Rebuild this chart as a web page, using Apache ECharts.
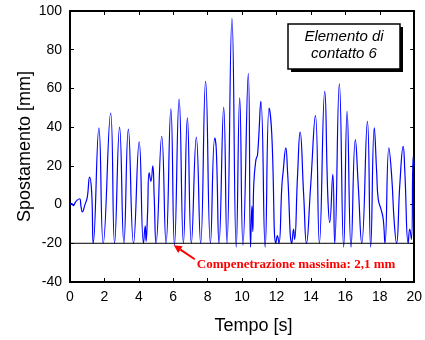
<!DOCTYPE html>
<html>
<head>
<meta charset="utf-8">
<script src="https://cdn.jsdelivr.net/npm/echarts@6/dist/echarts.min.js"></script>
<style>
  html, body { margin: 0; padding: 0; background: #fff; }
  #chart { width: 425px; height: 340px; }
</style>
</head>
<body>
<div id="chart"></div>
<script>
// ---- data ----
const time = [
  0, 0.1, 0.2, 0.3, 0.42, 0.56, 0.64, 0.72, 0.87, 1.0, 1.14, 1.26, 1.35,
  1.68, 1.93,
  2.36, 2.59,
  2.88, 3.13,
  3.39, 3.69,
  4.02, 4.27, 4.37, 4.42, 4.5, 4.6, 4.7, 4.81, 4.89, 5.0,
  5.33, 5.58,
  5.86, 6.07,
  6.34, 6.59,
  6.82, 7.05,
  7.34, 7.59,
  7.88, 8.16,
  8.41, 8.5, 8.66,
  8.93, 9.12,
  9.41, 9.66,
  9.86, 10.05,
  10.36, 10.49, 10.57, 10.62, 10.68, 10.8, 10.9,
  11.09, 11.34,
  11.57, 11.72, 11.96, 12.05, 12.14, 12.31, 12.38,
  12.54, 12.64, 12.89, 12.99, 13.05, 13.22,
  13.37, 13.58, 13.74, 13.97,
  14.26, 14.49,
  14.80, 14.98, 15.09, 15.27, 15.38,
  15.65, 15.90,
  16.10, 16.33,
  16.58, 16.75, 16.95,
  17.28, 17.47,
  17.68, 17.82, 17.91, 18.07, 18.2, 18.3,
  18.53, 18.69, 18.84, 18.97, 19.17,
  19.36, 19.45, 19.65, 19.74, 19.84, 19.94, 20.0
];
const disp = [
  0, 0.5, -0.5, 1, 2.3, 3, -1, -3.8, 0, 3.6, 14.2, 6.2, -20,
  39.6, -20,
  47.3, -20,
  40, -20,
  39, -20,
  32.4, -20, -11, -19, -5.9, 16.5, 12, 20, 4.4, -20,
  35.3, -20,
  49.4, -21,
  54.5, -20,
  44.8, -20,
  34.8, -20,
  63.6, -20,
  34.5, 28.4, -20,
  50.2, -20,
  96.2, -22,
  55.1, -21,
  67.6, -22, -0.7, -14, 11, 23, 26,
  53.3, -22,
  49.9, 37, -20, -16, -20, 9.6, 16.6,
  29.3, 17, -20, -12.7, -18, 14.7,
  37.4, 4.4, -20, 7.9,
  46, -20,
  58.5, 4.4, -9.3, 15.6, -20,
  62.4, -22,
  48.2, -22,
  33.6, 9.6, -20,
  43, -22,
  39.6, 16.5, 2.7, -2.4, -7.6, -20,
  29.3, 14.7, -9.3, -20, 11.3,
  30.1, 18, -20, -12.7, -18, 25, 20
];
// horizontal contact limit line
const limitTime = [0, 20];
const limitDisp = [-20, -20];
// axis tick values
const xTicks = [0, 2, 4, 6, 8, 10, 12, 14, 16, 18, 20];
const yTicks = [-40, -20, 0, 20, 40, 60, 80, 100];
// annotation
const boxLines = ['Elemento di', 'contatto 6'];
const noteText = 'Compenetrazione massima: 2,1 mm';
const notePoint = [6.03, -21];

const chart = echarts.init(document.getElementById('chart'), null, { renderer: 'canvas' });
const font = 'Liberation Sans, Arial, sans-serif';
const axisCommon = {
  type: 'value',
  axisLine: { show: true, onZero: false, lineStyle: { color: '#000', width: 2 } },
  axisTick: { show: true, inside: true, length: 4, lineStyle: { color: '#000', width: 1 } },
  splitLine: { show: false }
};
const option = {
  animation: false,
  backgroundColor: '#fff',
  grid: { left: 70, right: 9, top: 11, bottom: 57 },
  xAxis: [
    Object.assign({}, axisCommon, {
      min: xTicks[0], max: xTicks[xTicks.length - 1], interval: 2,
      position: 'bottom',
      axisLabel: { color: '#000', fontSize: 14, fontFamily: font, margin: 8 },
      name: 'Tempo [s]', nameLocation: 'middle', nameGap: 35,
      nameTextStyle: { color: '#000', fontSize: 18, fontFamily: font, padding: [0, 0, 0, 23] }
    }),
    Object.assign({}, axisCommon, {
      min: xTicks[0], max: xTicks[xTicks.length - 1], interval: 2,
      position: 'top', axisLabel: { show: false }
    })
  ],
  yAxis: [
    Object.assign({}, axisCommon, {
      min: yTicks[0], max: yTicks[yTicks.length - 1], interval: 20,
      position: 'left',
      axisLabel: { color: '#000', fontSize: 14, fontFamily: font, margin: 8 },
      name: 'Spostamento [mm]', nameLocation: 'middle', nameGap: 36,
      nameMoveOverlap: false,
      nameTextStyle: { color: '#000', fontSize: 18, fontFamily: font }
    }),
    Object.assign({}, axisCommon, {
      min: yTicks[0], max: yTicks[yTicks.length - 1], interval: 20,
      position: 'right', axisLabel: { show: false }
    })
  ],
  series: [
    {
      type: 'line',
      data: time.map((t, i) => [t, disp[i]]),
      smooth: 0.5,
      symbol: 'none',
      lineStyle: { color: '#0000ff', width: 1.2 },
      z: 3
    },
    {
      type: 'line',
      data: limitTime.map((t, i) => [t, limitDisp[i]]),
      symbol: 'none',
      lineStyle: { color: '#000', width: 1 },
      z: 4
    }
  ]
};
chart.setOption(option);

// annotations
const head = chart.convertToPixel({ xAxisIndex: 0, yAxisIndex: 0 }, notePoint);
const tail = [head[0] + 21, head[1] + 14];
const dx = head[0] - tail[0], dy = head[1] - tail[1];
const len = Math.sqrt(dx * dx + dy * dy);
const ux = dx / len, uy = dy / len;
const hl = 8, hw = 4;
const base = [head[0] - ux * hl, head[1] - uy * hl];
const arrowHead = [
  head,
  [base[0] - uy * hw, base[1] + ux * hw],
  [base[0] + uy * hw, base[1] - ux * hw]
];
const bx = 288, by = 24, bw = 112, bh = 45;
chart.setOption({
  graphic: [
    { type: 'rect', shape: { x: bx + 3, y: by + 3, width: bw, height: bh }, style: { fill: '#000' }, z: 10 },
    { type: 'rect', shape: { x: bx, y: by, width: bw, height: bh }, style: { fill: '#fff', stroke: '#000', lineWidth: 1.5 }, z: 11 },
    { type: 'text', x: bx + bw / 2, y: by + 13, style: { text: boxLines[0], fill: '#000', font: 'italic 15px ' + font, textAlign: 'center', textVerticalAlign: 'middle' }, z: 12 },
    { type: 'text', x: bx + bw / 2, y: by + 30, style: { text: boxLines[1], fill: '#000', font: 'italic 15px ' + font, textAlign: 'center', textVerticalAlign: 'middle' }, z: 12 },
    { type: 'line', shape: { x1: tail[0], y1: tail[1], x2: base[0], y2: base[1] }, style: { stroke: '#ff0000', lineWidth: 2 }, z: 12 },
    { type: 'polygon', shape: { points: arrowHead }, style: { fill: '#ff0000' }, z: 12 },
    { type: 'text', x: tail[0] + 2, y: tail[1] + 5, style: { text: noteText, fill: '#ff0000', font: 'bold 13px Liberation Serif, Times New Roman, serif', textAlign: 'left', textVerticalAlign: 'middle' }, z: 12 }
  ]
});
</script>
</body>
</html>
